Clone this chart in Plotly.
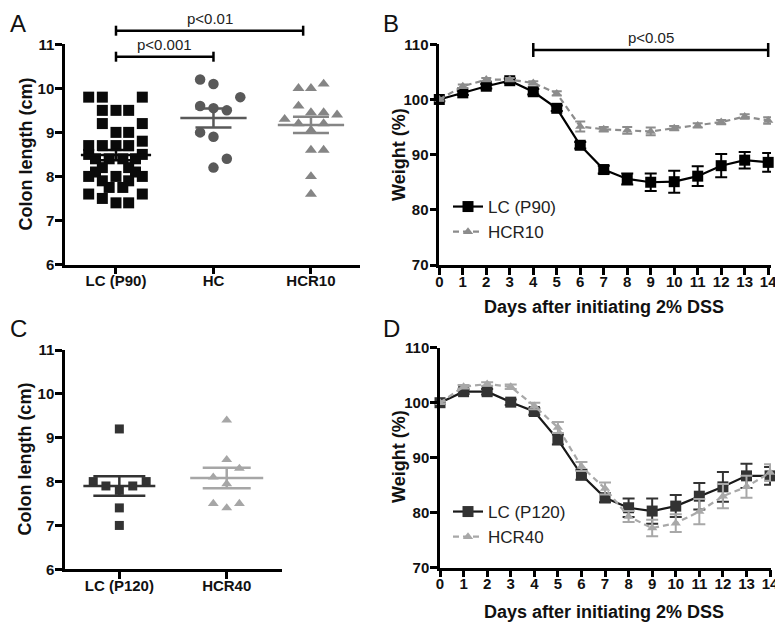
import numpy as np
import plotly.graph_objects as go

FONT = "Liberation Sans, Arial, Helvetica, sans-serif"

# ---------------- Panel A: colon length ----------------
catA = ["LC (P90)", "HC", "HCR10"]
lc90_len = [9.8, 9.8, 9.8, 9.5, 9.5, 9.5, 9.2, 9.2, 9.0, 9.0, 8.8,
            8.7, 8.7, 8.7, 8.7, 8.5, 8.5, 8.4, 8.4, 8.4, 8.4, 8.2, 8.2,
            8.1, 8.1, 8.0, 8.0, 8.0, 7.9, 7.9, 7.75, 7.75, 7.6, 7.6, 7.5, 7.4, 7.4]
lc90_off = [-0.28, -0.14, 0.27, -0.14, 0.0, 0.13, -0.14, 0.27, 0.0, 0.13, 0.27,
            -0.28, -0.14, 0.0, 0.13, -0.28, 0.27, -0.21, -0.07, 0.07, 0.2, -0.14, 0.13,
            -0.21, 0.2, -0.28, 0.0, 0.27, -0.14, 0.13, -0.07, 0.07, -0.28, 0.27, -0.14, 0.0, 0.13]
hc_len = [10.2, 10.1, 9.8, 9.6, 9.55, 9.5, 9.0, 8.9, 8.4, 8.2]
hc_off = [-0.137, 0.0, 0.275, -0.137, 0.0, 0.137, -0.137, 0.0, 0.137, 0.0]
hcr10_len = [10.0, 10.0, 10.1, 9.6, 9.45, 9.45, 9.4, 9.3, 9.2, 9.2, 9.05, 8.6, 8.6, 8.0, 7.6]
hcr10_off = [-0.128, 0.0, 0.13, -0.128, 0.0, 0.13, 0.268, -0.27, -0.128, 0.13, 0.0, 0.0, 0.13, 0.0, 0.0]

# ---------------- Panel C: colon length ----------------
catC = ["LC (P120)", "HCR40"]
lc120_len = [9.2, 8.0, 8.0, 7.9, 7.9, 7.8, 7.4, 7.0]
lc120_off = [0.0, -0.243, 0.25, -0.125, 0.125, 0.0, 0.0, 0.0]
hcr40_len = [9.4, 8.5, 8.3, 8.1, 7.95, 7.5, 7.5, 7.4]
hcr40_off = [0.0, 0.0, 0.118, -0.125, 0.0, -0.125, 0.118, 0.0]

# ---------------- Panels B, D: weight curves ----------------
days = list(range(15))
dayticks = [str(d) for d in days]
lc90_w = [100.0, 101.2, 102.4, 103.4, 101.4, 98.4, 91.7, 87.3, 85.6, 85.0, 85.1, 86.1, 88.0, 89.0, 88.6]
lc90_se = [0.3, 0.4, 0.4, 0.4, 0.5, 0.5, 0.6, 0.7, 1.0, 1.6, 2.0, 1.8, 2.1, 1.5, 1.7]
hcr10_w = [100.0, 102.4, 103.6, 103.6, 103.0, 101.1, 95.1, 94.6, 94.4, 94.2, 94.8, 95.3, 95.9, 96.9, 96.2]
hcr10_se = [0.2, 0.3, 0.3, 0.3, 0.3, 0.4, 0.9, 0.4, 0.6, 0.7, 0.4, 0.4, 0.4, 0.4, 0.6]
lc120_w = [100.0, 102.0, 102.0, 100.1, 98.4, 93.3, 86.9, 82.7, 80.9, 80.3, 81.2, 83.0, 84.7, 86.7, 86.7]
lc120_se = [0.2, 0.4, 0.5, 0.5, 0.6, 0.9, 0.9, 0.8, 1.7, 2.3, 2.0, 2.4, 2.7, 2.2, 1.6]
hcr40_w = [100.0, 102.9, 103.4, 102.9, 99.4, 95.5, 88.4, 84.4, 79.3, 77.2, 78.1, 80.2, 83.0, 84.7, 87.3]
hcr40_se = [0.2, 0.3, 0.3, 0.4, 0.6, 1.0, 0.8, 1.1, 1.0, 1.5, 1.6, 2.3, 2.2, 2.0, 1.5]

# page offset (default body margin of the html page) and figure size
OFF = 8
W, H = 783 - OFF, 625 - OFF


def fx(p):
    return (p - OFF) / W


def fy(p):
    return 1 - (p - OFF) / H


fig = go.Figure()


def dot_group(vals, offs, idx, xa, ya, color, symbol, size, mean_hw, cap_w):
    xs = [idx + o for o in offs]
    fig.add_trace(go.Scatter(x=xs, y=vals, mode="markers", xaxis=xa, yaxis=ya,
                             marker=dict(symbol=symbol, size=size, color=color, line=dict(width=0)),
                             showlegend=False, cliponaxis=False, hoverinfo="skip"))
    v = np.array(vals)
    m = float(v.mean())
    se = float(v.std(ddof=1) / np.sqrt(len(v)))
    fig.add_trace(go.Scatter(x=[idx - mean_hw, idx + mean_hw], y=[m, m], mode="lines",
                             xaxis=xa, yaxis=ya, line=dict(color=color, width=2.5),
                             showlegend=False, hoverinfo="skip"))
    fig.add_trace(go.Scatter(x=[idx], y=[m], mode="markers", xaxis=xa, yaxis=ya,
                             marker=dict(size=1, opacity=0),
                             error_y=dict(type="data", array=[se], color=color, thickness=2.5, width=cap_w),
                             showlegend=False, hoverinfo="skip"))


# Panel A
dot_group(lc90_len, lc90_off, 0, "x", "y", "#0a0a0a", "square", 11, 0.36, 18)
dot_group(hc_len, hc_off, 1, "x", "y", "#595959", "circle", 10.5, 0.34, 18)
dot_group(hcr10_len, hcr10_off, 2, "x", "y", "#858585", "triangle-up", 10.5, 0.34, 18)

# Panel C
dot_group(lc120_len, lc120_off, 0, "x3", "y3", "#333333", "square", 9, 0.335, 26)
dot_group(hcr40_len, hcr40_off, 1, "x3", "y3", "#a6a6a6", "triangle-up", 9.5, 0.34, 24)


def curve(y, se, xa, ya, name, color, lcolor, symbol, size, dash, cap, legend):
    fig.add_trace(go.Scatter(x=days, y=y, mode="lines+markers", name=name, xaxis=xa, yaxis=ya,
                             line=dict(color=lcolor, width=2.2, dash=dash),
                             marker=dict(symbol=symbol, size=size, color=color, line=dict(width=0)),
                             error_y=dict(type="data", array=se, color=color, thickness=2, width=cap),
                             cliponaxis=False, legend=legend, hoverinfo="skip"))


# Panel B
curve(lc90_w, lc90_se, "x2", "y2", "LC (P90)", "#000000", "#000000", "square", 11, "solid", 6, "legend")
curve(hcr10_w, hcr10_se, "x2", "y2", "HCR10", "#8c8c8c", "#8c8c8c", "triangle-up", 9, "6px,4px", 5, "legend")
# Panel D
curve(lc120_w, lc120_se, "x4", "y4", "LC (P120)", "#333333", "#1a1a1a", "square", 11, "solid", 6, "legend2")
curve(hcr40_w, hcr40_se, "x4", "y4", "HCR40", "#a8a8a8", "#a8a8a8", "triangle-up", 9, "6px,4px", 6, "legend2")

tickfont = dict(family=FONT, size=15, color="#111111", weight="bold")
titlefont = dict(family=FONT, size=18, color="#111111", weight="bold")
base = dict(showline=True, linecolor="black", linewidth=2.5, ticks="outside", ticklen=7,
            tickwidth=2.5, tickcolor="black", showgrid=False, zeroline=False,
            tickfont=tickfont, automargin=False)
xb = dict(base, ticklabelstandoff=-6)
yb = dict(base, ticklabelstandoff=-2)

fig.update_layout(
    width=W, height=H, margin=dict(l=0, r=0, t=0, b=0, pad=0, autoexpand=False),
    paper_bgcolor="white", plot_bgcolor="white",
    font=dict(family=FONT, color="#111111"),
    xaxis=dict(xb, domain=[fx(65), fx(360)], range=[-0.523, 2.503], anchor="y",
               tickvals=[0, 1, 2], ticktext=catA),
    yaxis=dict(yb, domain=[fy(264.5), fy(44.3)], range=[6, 11], anchor="x",
               tickvals=[6, 7, 8, 9, 10, 11]),
    xaxis2=dict(xb, domain=[fx(439.3), fx(771)], range=[0, 14.12], anchor="y2",
                tickvals=days, ticktext=dayticks),
    yaxis2=dict(yb, domain=[fy(265), fy(44.3)], range=[70, 110], anchor="x2",
                tickvals=[70, 80, 90, 100, 110]),
    xaxis3=dict(xb, domain=[fx(65), fx(281.7)], range=[-0.506, 1.512], anchor="y3",
                tickvals=[0, 1], ticktext=catC),
    yaxis3=dict(yb, domain=[fy(569.3), fy(350)], range=[6, 11], anchor="x3",
                tickvals=[6, 7, 8, 9, 10, 11]),
    xaxis4=dict(xb, domain=[fx(440), fx(771)], range=[0, 14.04], anchor="y4",
                tickvals=days, ticktext=dayticks),
    yaxis4=dict(yb, domain=[fy(567.7), fy(347.7)], range=[70, 110], anchor="x4",
                tickvals=[70, 80, 90, 100, 110]),
    legend=dict(x=fx(448), y=fy(189), xanchor="left", yanchor="top",
                font=dict(family=FONT, size=17, color="#222222"),
                bgcolor="rgba(0,0,0,0)", itemwidth=30, tracegroupgap=0),
    legend2=dict(x=fx(448), y=fy(494), xanchor="left", yanchor="top",
                 font=dict(family=FONT, size=17, color="#222222"),
                 bgcolor="rgba(0,0,0,0)", itemwidth=30, tracegroupgap=0),
)

# significance brackets
shapes = []


def bracket(x0, x1, xref, ypx, half):
    ln = dict(color="black", width=2.5)
    shapes.append(dict(type="line", xref=xref, yref="paper", x0=x0, x1=x1, y0=fy(ypx), y1=fy(ypx), line=ln))
    for xv in (x0, x1):
        shapes.append(dict(type="line", xref=xref, yref="paper", x0=xv, x1=xv,
                           y0=fy(ypx - half), y1=fy(ypx + half), line=ln))


bracket(0, 1, "x", 56.7, 5)
bracket(0, 1.92, "x", 30.7, 5)
bracket(4, 14, "x2", 50, 7)
fig.update_layout(shapes=shapes)

pfont = dict(family=FONT, size=15, color="#222222")
ann = [
    dict(text="p<0.001", x=0.5, xref="x", y=fy(44), yref="paper", showarrow=False, font=pfont, yanchor="middle"),
    dict(text="p<0.01", x=0.96, xref="x", y=fy(19), yref="paper", showarrow=False, font=pfont, yanchor="middle"),
    dict(text="p<0.05", x=9, xref="x2", y=fy(38), yref="paper", showarrow=False, font=pfont, yanchor="middle"),
]
# axis titles
for txt, xp, yp, ang in [("Colon length (cm)", 25, 154.5, -90),
                         ("Colon length (cm)", 25, 459.6, -90),
                         ("Weight (%)", 399, 155, -90),
                         ("Weight (%)", 399, 457, -90),
                         ("Days after initiating 2% DSS", 604, 306.5, 0),
                         ("Days after initiating 2% DSS", 604, 611.5, 0)]:
    ann.append(dict(text=txt, x=fx(xp), y=fy(yp), xref="paper", yref="paper", xanchor="center",
                    yanchor="middle", textangle=ang, showarrow=False, font=titlefont))
# panel letters (kept inside the figure area)
lfont = dict(family=FONT, size=24, color="#111111")
for letter, xp, yp, ya in [("A", 8.5, 8.5, "top"), ("B", 382, 8.5, "top"),
                           ("C", 8.5, 328, "middle"), ("D", 382, 328, "middle")]:
    ann.append(dict(text=letter, x=fx(xp), y=fy(yp), xref="paper", yref="paper", xanchor="left",
                    yanchor=ya, borderpad=0, showarrow=False, font=lfont))
fig.update_layout(annotations=ann)

fig.write_html("out.html")
